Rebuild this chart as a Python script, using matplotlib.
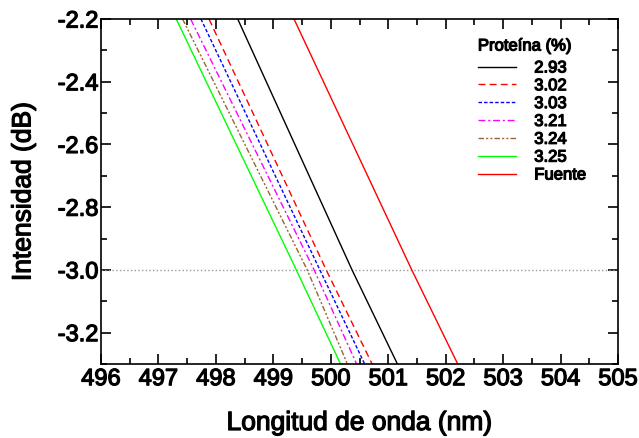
import matplotlib
matplotlib.use("Agg")
from matplotlib import pyplot as plt
from matplotlib import patheffects as pe

plt.rcParams['font.family'] = ['Liberation Sans', 'DejaVu Sans']

# intensity levels (dB) where the wavelengths were read
intensity = [-2.2, -3.0, -3.3]

wl_293 = [498.38, 500.37, 501.16]
wl_302 = [497.88, 499.92, 500.72]
wl_303 = [497.74, 499.81, 500.59]
wl_321 = [497.56, 499.71, 500.45]
wl_324 = [497.42, 499.59, 500.29]
wl_325 = [497.31, 499.40, 500.17]
wl_fuente = [499.36, 501.41, 502.21]

labels = ['2.93', '3.02', '3.03', '3.21', '3.24', '3.25', 'Fuente']
colors = ['black', '#ff0000', '#0000ff', '#ff00ff', '#996633', '#00ff00', '#ff0000']
styles = ['-', (0, (5, 3)), (0, (2.5, 1.5)), (0, (5, 2, 1.5, 2)),
          (0, (4, 1.5, 1.5, 1.5, 1.5, 1.5)), '-', '-']
series = [wl_293, wl_302, wl_303, wl_321, wl_324, wl_325, wl_fuente]

heavy = [pe.withStroke(linewidth=0.9, foreground='black')]

fig = plt.figure(figsize=(6.39, 4.38), dpi=100)
ax = fig.add_axes([101 / 639, 1 - 364 / 438, 517 / 639, 345 / 438])

ax.axhline(-3.0, color='#999999', linestyle=':', linewidth=1)

for wl, lab, col, ls in zip(series, labels, colors, styles):
    ax.plot(wl, intensity, color=col, linestyle=ls, linewidth=1, label=lab)

ax.set_xlim(496, 505)
ax.set_ylim(-3.3, -2.2)
ax.set_xticks(range(496, 506))
ax.set_xticks([x + 0.5 for x in range(496, 505)], minor=True)
ax.set_yticks([-3.2, -3.0, -2.8, -2.6, -2.4, -2.2])
ax.set_yticks([-3.3, -3.1, -2.9, -2.7, -2.5, -2.3], minor=True)
ax.set_yticklabels(['-3.2', '-3.0', '-2.8', '-2.6', '-2.4', '-2.2'])

ax.tick_params(which='both', direction='in', top=True, right=True, width=1.2)
ax.tick_params(which='major', length=7)
ax.tick_params(which='minor', length=4)
ax.tick_params(axis='x', which='major', labelsize=17, pad=3)
ax.tick_params(axis='y', which='major', labelsize=17, pad=2)
for lbl in ax.get_xticklabels() + ax.get_yticklabels():
    lbl.set_path_effects(heavy)
for sp in ax.spines.values():
    sp.set_linewidth(1.2)

ax.set_xlabel('Longitud de onda (nm)', fontsize=19, labelpad=15,
              path_effects=heavy)
ax.set_ylabel('Intensidad (dB)', fontsize=19, labelpad=16,
              path_effects=heavy)

leg = ax.legend(title='Proteína (%)', frameon=False, loc='upper left',
                bbox_to_anchor=(0.70, 0.987), fontsize=12, title_fontsize=12,
                labelspacing=0.17, handlelength=2.28, handletextpad=1.1,
                alignment='left')
leg._legend_box.sep = 5
leg.get_title().set_path_effects(heavy)
for t in leg.get_texts():
    t.set_path_effects(heavy)

plt.savefig('out.png', dpi=100)
